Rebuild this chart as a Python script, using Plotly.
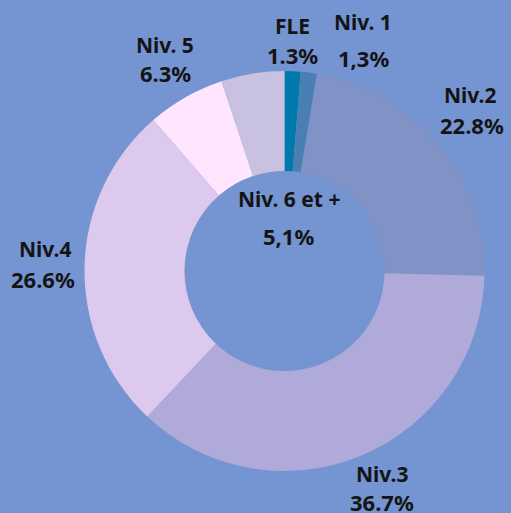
import plotly.graph_objects as go

# Data
categories = ["FLE", "Niv. 1", "Niv.2", "Niv.3", "Niv.4", "Niv. 5", "Niv. 6 et +"]
values = [1.3, 1.3, 22.8, 36.7, 26.6, 6.3, 5.1]
value_labels = ["1.3%", "1,3%", "22.8%", "36.7%", "26.6%", "6.3%", "5,1%"]

# Styles
colors = ["#0079AC", "#4A7FB3", "#8092C6", "#B0AADB", "#DCC9ED", "#FFE6FE", "#C9C1E0"]
bg = "#7494D2"
W, H = 511, 513

# label positions in pixels (name line, value line)
label_pos = {
    "FLE": ((292, 26), (292, 55)),
    "Niv. 1": ((363, 22), (363, 58)),
    "Niv.2": ((470, 95), (472, 125)),
    "Niv.3": ((382, 474), (382, 502)),
    "Niv.4": ((45, 249), (43, 279)),
    "Niv. 5": ((165, 45), (165, 73)),
    "Niv. 6 et +": ((289, 199), (288, 236)),
}

cx, cy, r = 284.5, 271, 200

fig = go.Figure(go.Pie(
    labels=categories,
    values=values,
    sort=False,
    direction="clockwise",
    rotation=0,
    hole=0.5,
    marker=dict(colors=colors, line=dict(width=0)),
    textinfo="none",
    hoverinfo="label+percent",
    showlegend=False,
    domain=dict(x=[(cx - r) / W, (cx + r) / W], y=[(H - cy - r) / H, (H - cy + r) / H]),
))

name_font = dict(family="Noto Sans, Open Sans, sans-serif", size=21, color="#141414")
value_font = dict(family="Noto Sans, Open Sans, sans-serif", size=22, color="#141414")
anns = []
for cat, vl in zip(categories, value_labels):
    (x1, y1), (x2, y2) = label_pos[cat]
    for txt, (x, y), f in ((cat, (x1, y1), name_font), (vl, (x2, y2), value_font)):
        anns.append(dict(text=f"<b>{txt}</b>", x=x / W, y=1 - y / H, xref="paper", yref="paper",
                         showarrow=False, xanchor="center", yanchor="middle", font=f))

fig.update_layout(
    width=W, height=H,
    margin=dict(l=0, r=0, t=0, b=0),
    paper_bgcolor=bg, plot_bgcolor=bg,
    annotations=anns,
)

fig.write_html(
    "out.html",
    config={"displayModeBar": False},
    post_script="document.body.style.margin='0';document.body.style.padding='0';"
                "document.body.style.overflow='hidden';",
)
